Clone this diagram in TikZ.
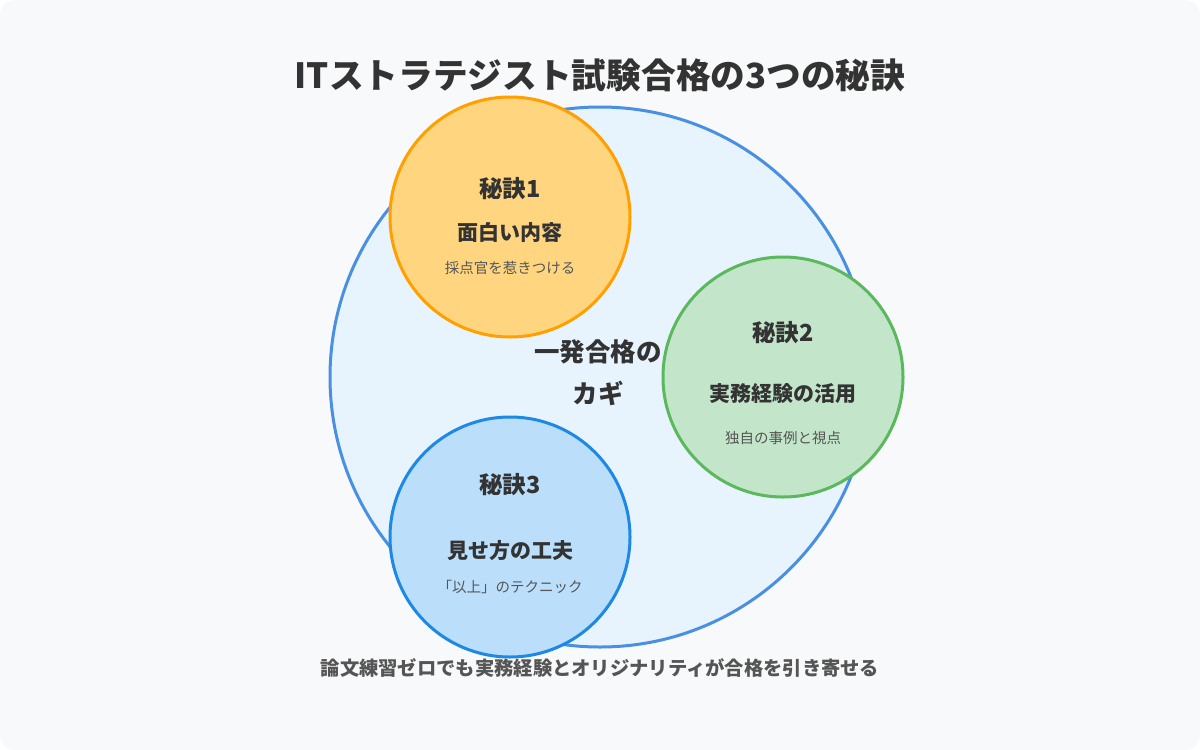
\documentclass[tikz,border=0pt]{standalone}
\usepackage{fontspec}
\setmainfont{Noto Sans CJK JP}
\definecolor{bgpanel}{HTML}{F8F9FA}
\definecolor{txtdark}{HTML}{333333}
\definecolor{txtsub}{HTML}{555555}
\definecolor{bigfill}{HTML}{E8F4FD}
\definecolor{bigline}{HTML}{4A90E2}
\definecolor{orfill}{HTML}{FFD580}
\definecolor{orline}{HTML}{FFA000}
\definecolor{grfill}{HTML}{C3E6CB}
\definecolor{grline}{HTML}{5CB85C}
\definecolor{blfill}{HTML}{BBDEFB}
\definecolor{blline}{HTML}{1E88E5}
\newcommand{\fsz}[1]{\fontsize{#1}{#1}\selectfont}
\tikzset{
  disc/.style={circle, inner sep=0pt, outer sep=0pt, line width=3pt},
  ttl/.style={font=\fsz{34.7}\bfseries, text=txtdark, inner sep=0pt},
  head/.style={font=\fsz{23.5}\bfseries, text=txtdark, inner sep=0pt},
  mid/.style={font=\fsz{21}\bfseries, text=txtdark, inner sep=0pt},
  small/.style={font=\fsz{14.5}, text=txtsub, inner sep=0pt},
  core/.style={font=\fsz{25.5}\bfseries, text=txtdark, inner sep=0pt},
  foot/.style={font=\fsz{19.3}\bfseries, text=txtsub, inner sep=0pt},
}
\begin{document}
\begin{tikzpicture}[x=1pt,y=-1pt]
\useasboundingbox (0,0) rectangle (1200,750);
\fill[white] (0,0) rectangle (1200,750);
\fill[bgpanel, rounded corners=15pt] (0,0) rectangle (1200,750);

\node[ttl] (title) at (600,75) {ITストラテジスト試験合格の3つの秘訣};

\node[disc, minimum size=540pt, fill=bigfill, draw=bigline] (big) at (600,377) {};
\node[disc, minimum size=240pt, fill=orfill, draw=orline] (c1) at (510,217) {};
\node[disc, minimum size=240pt, fill=grfill, draw=grline] (c2) at (783,377) {};
\node[disc, minimum size=240pt, fill=blfill, draw=blline] (c3) at (510,537) {};

\node[core] (k1) at (598,352) {一発合格の};
\node[core] (k2) at (598,393) {カギ};

\node[head] (h1) at (510,189) {秘訣1};
\node[mid] (m1) at (510,232) {面白い内容};
\node[small] (s1) at (510,268) {採点官を惹きつける};

\node[head] (h2) at (783,333) {秘訣2};
\node[mid] (m2) at (783,394) {実務経験の活用};
\node[small] (s2) at (783,438) {独自の事例と視点};

\node[head] (h3) at (510,485) {秘訣3};
\node[mid] (m3) at (510,551) {見せ方の工夫};
\node[small] (s3) at (510,587) {「以上」のテクニック};

\node[foot] (ft) at (600,668) {論文練習ゼロでも実務経験とオリジナリティが合格を引き寄せる};
\end{tikzpicture}
\end{document}
